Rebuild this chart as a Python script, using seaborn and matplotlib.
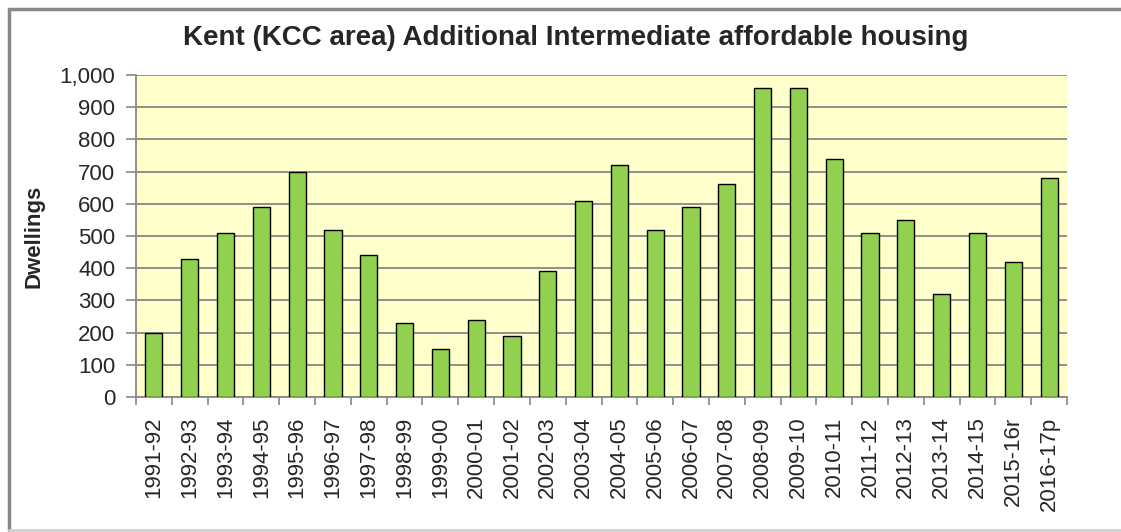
import matplotlib
matplotlib.use("Agg")
import matplotlib.pyplot as plt
import seaborn as sns
import pandas as pd
from matplotlib.lines import Line2D
from matplotlib.ticker import FuncFormatter

years = [
    "1991-92", "1992-93", "1993-94", "1994-95", "1995-96", "1996-97",
    "1997-98", "1998-99", "1999-00", "2000-01", "2001-02", "2002-03",
    "2003-04", "2004-05", "2005-06", "2006-07", "2007-08", "2008-09",
    "2009-10", "2010-11", "2011-12", "2012-13", "2013-14", "2014-15",
    "2015-16r", "2016-17p",
]
dwellings = [
    200, 430, 510, 590, 700, 520,
    440, 230, 150, 240, 190, 390,
    610, 720, 520, 590, 660, 960,
    960, 740, 510, 550, 320, 510,
    420, 680,
]
y_ticks = list(range(0, 1001, 100))

sns.set_style("white")
plt.rcParams["font.family"] = ["Liberation Sans", "DejaVu Sans"]

df = pd.DataFrame({"year": years, "dwellings": dwellings})

W, H = 1121, 532
fig = plt.figure(figsize=(W / 100, H / 100), dpi=100)
fig.patch.set_facecolor("white")
fig.patch.set_edgecolor("none")
fig.patch.set_linewidth(0)
ax = fig.add_axes([136 / W, 1 - 397 / H, (1067 - 136) / W, (397 - 75) / H])

sns.barplot(
    data=df, x="year", y="dwellings", color="#92D050", saturation=1,
    width=0.48, edgecolor="black", linewidth=1, ax=ax, zorder=3,
)

ax.set_facecolor("#FFFFCC")
ax.set_xlim(-0.5, len(years) - 0.5)
ax.set_ylim(0, 1000)
ax.set_yticks(y_ticks)
ax.yaxis.set_major_formatter(FuncFormatter(lambda v, _: f"{int(v):,}"))
ax.grid(axis="y", color="#888888", linewidth=1.3, zorder=0)
ax.set_axisbelow(True)

# ticks sit on the category boundaries
ax.set_xticks([i - 0.5 for i in range(len(years) + 1)], minor=True)
ax.set_xticks(range(len(years)))
ax.set_xticklabels(years, rotation=90, fontsize=16)
ax.tick_params(axis="x", which="major", length=0, pad=14)
ax.tick_params(axis="x", which="minor", length=6, color="#888888", width=1.2,
               direction="out", bottom=True)
ax.tick_params(axis="y", length=7, color="#888888", width=1.2,
               direction="out", left=True, labelsize=16, pad=8)

for side in ["top", "right"]:
    ax.spines[side].set_visible(False)
for side in ["left", "bottom"]:
    ax.spines[side].set_color("#888888")
    ax.spines[side].set_linewidth(1.3)

ax.set_xlabel("")
ax.set_ylabel("Dwellings", fontsize=16, fontweight="bold", labelpad=11)

fig.text(576 / W, 1 - 38 / H, "Kent (KCC area) Additional Intermediate affordable housing",
         ha="center", va="center", fontsize=20, fontweight="bold")

# chart frame: top, left and (faint) bottom edges only
x0, y0, y1 = 9 / W, 1 - 9 / H, 1 - 530 / H
fig.lines.append(Line2D([x0, 1], [y0, y0], transform=fig.transFigure,
                        color="#888888", linewidth=2.5))
fig.lines.append(Line2D([x0, x0], [y1, y0], transform=fig.transFigure,
                        color="#888888", linewidth=2.5))
fig.lines.append(Line2D([x0, 1], [y1, y1], transform=fig.transFigure,
                        color="#D0D0D0", linewidth=2))

fig.savefig("out.png", dpi=100, facecolor="white", edgecolor="none")
plt.close(fig)
